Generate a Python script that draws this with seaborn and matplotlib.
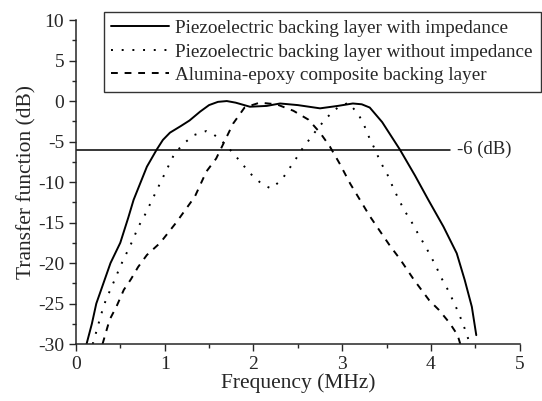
import numpy as np
import pandas as pd
import matplotlib
matplotlib.use("Agg")
import matplotlib.pyplot as plt
import seaborn as sns

# Piezoelectric backing layer with impedance
freq_with = [0.12, 0.18, 0.23, 0.31, 0.39, 0.50, 0.59, 0.65, 0.80, 0.91, 0.98, 1.06, 1.18, 1.28,
             1.40, 1.50, 1.60, 1.70, 1.80, 1.96, 2.15, 2.30, 2.50, 2.75, 2.95, 3.12, 3.22, 3.31,
             3.45, 3.65, 3.82, 3.97, 4.14, 4.29, 4.38, 4.46, 4.51]
db_with = [-30, -27.5, -25, -22.5, -20, -17.5, -14.4, -12.2, -8.1, -6.0, -4.8, -3.9, -3.1, -2.4,
           -1.3, -0.5, -0.1, 0.0, -0.2, -0.7, -0.6, -0.3, -0.5, -0.9, -0.6, -0.3, -0.4, -0.8,
           -2.6, -6.0, -9.2, -12.2, -15.5, -18.8, -22.1, -25.4, -28.9]

# Piezoelectric backing layer without impedance
freq_without = [0.19, 0.24, 0.28, 0.33, 0.38, 0.44, 0.50, 0.57, 0.64, 0.70, 0.78, 0.92, 1.11,
                1.22, 1.33, 1.47, 1.55, 1.65, 1.77, 1.96, 2.10, 2.20, 2.32, 2.48, 2.55, 2.64,
                2.73, 2.83, 2.95, 3.07, 3.18, 3.24, 3.30, 3.37, 3.43, 3.51, 3.57, 3.63, 3.70,
                3.78, 3.85, 3.93, 4.00, 4.06, 4.12, 4.19, 4.26, 4.32, 4.38, 4.43, 4.45]
db_without = [-30, -28.1, -26.5, -24.8, -23.5, -22.0, -20.4, -18.8, -17.2, -15.6, -14.0, -10.8,
              -6.5, -5.2, -4.2, -3.7, -4.1, -5.0, -6.4, -8.9, -10.3, -10.8, -9.7, -7.1, -5.9,
              -4.6, -3.3, -2.0, -0.8, -0.2, -1.6, -2.8, -4.4, -6.0, -7.5, -9.1, -10.6, -12.0,
              -13.5, -14.9, -16.3, -17.8, -19.2, -20.5, -21.9, -23.3, -24.9, -26.4, -28.1,
              -29.7, -30]

# Alumina-epoxy composite backing layer
freq_alumina = [0.30, 0.38, 0.46, 0.54, 0.62, 0.70, 0.80, 0.95, 1.13, 1.34, 1.47, 1.58, 1.66,
                1.77, 1.90, 2.07, 2.26, 2.45, 2.62, 2.75, 2.86, 2.97, 3.09, 3.20, 3.31, 3.44,
                3.54, 3.65, 3.81, 3.98, 4.09, 4.21, 4.30, 4.33]
db_alumina = [-30, -27.0, -25.3, -23.3, -22.0, -20.5, -19.0, -17.5, -15.0, -11.8, -8.7, -7.1,
              -5.3, -2.8, -0.8, -0.2, -0.4, -1.2, -2.3, -3.9, -5.6, -7.7, -10.2, -12.2, -14.2,
              -16.3, -17.9, -19.5, -22.1, -24.6, -25.8, -27.4, -28.9, -30]

labels = ["Piezoelectric backing layer with impedance",
          "Piezoelectric backing layer without impedance",
          "Alumina-epoxy composite backing layer"]

sns.set_style("ticks")
plt.rcParams['font.family'] = ['Liberation Serif', 'DejaVu Serif']
plt.rcParams['axes.unicode_minus'] = False

fig = plt.figure(figsize=(5.42, 4.01), dpi=100)
ax = fig.add_axes([0.140, 0.142, 0.819, 0.808])

series = [(freq_with, db_with, '-'),
          (freq_without, db_without, (0, (1, 4.5))),
          (freq_alumina, db_alumina, (0, (3.5, 3.5)))]
for (f, d, ls), lab in zip(series, labels):
    df = pd.DataFrame({"freq": f, "db": d})
    sns.lineplot(data=df, x="freq", y="db", ax=ax, sort=False, estimator=None,
                 color="black", linewidth=1.4, linestyle=ls, label=lab)

# -6 dB reference line
ax.plot([0, 4.21], [-6, -6], color="black", linewidth=1.1)
ax.text(4.29, -6, "-6 (dB)", fontsize=13.5, va="center", ha="left")

ax.set_xlim(0, 5)
ax.set_ylim(-30, 10)
ax.set_xticks(np.arange(0, 6, 1))
ax.set_xticks(np.arange(0, 5.01, 0.5), minor=True)
ax.set_yticks(np.arange(-30, 11, 5))
ax.set_yticks(np.arange(-30, 10.1, 2.5), minor=True)
ax.tick_params(which="major", direction="out", length=5, width=1, labelsize=14)
ax.tick_params(which="minor", direction="out", length=3, width=1)
ax.set_xlabel("Frequency (MHz)", fontsize=15.5, labelpad=0)
ax.set_ylabel("Transfer function (dB)", fontsize=15.5, labelpad=1)
sns.despine(ax=ax)
for s in ["left", "bottom"]:
    ax.spines[s].set_linewidth(1.1)

leg = ax.legend(loc="upper right", bbox_to_anchor=(1.047, 1.025), fontsize=13.8,
                frameon=True, fancybox=False, edgecolor="black", handlelength=3.0,
                borderaxespad=0, labelspacing=0.32, handletextpad=0.35, borderpad=0.4)
leg.get_frame().set_linewidth(1.0)

fig.savefig("out.png", dpi=100)
